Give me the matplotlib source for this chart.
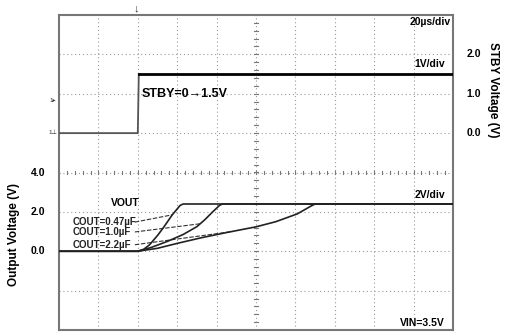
import matplotlib
matplotlib.use('Agg')

import matplotlib.pyplot as plt
import numpy as np

plt.rcParams['font.family'] = ['Liberation Sans', 'DejaVu Sans']

# time axis: 20 us/div, 10 divisions
t_span = (0, 200)

# STBY step (1 V/div, 0 V on division +1)
stby_t = [0, 40, 40.5, 200]
stby_v = [0.0, 0.0, 1.5, 1.5]

# VOUT curves (2 V/div, 0 V on division -2)
c047_t = [0, 40, 43, 46, 50, 53, 57.5, 61.5, 63, 200]
c047_v = [0.0, 0.0, 0.1, 0.33, 0.8, 1.2, 1.85, 2.33, 2.4, 2.4]
c10_t = [0, 40, 47, 55, 63, 70, 74, 78, 81.5, 83, 200]
c10_v = [0.0, 0.0, 0.2, 0.5, 0.85, 1.25, 1.6, 2.0, 2.33, 2.4, 2.4]
c22_t = [0, 40, 50, 60, 72, 85, 100, 110, 121, 128, 130, 200]
c22_v = [0.0, 0.0, 0.15, 0.4, 0.68, 0.95, 1.24, 1.5, 1.9, 2.3, 2.4, 2.4]

labels = ['COUT=0.47µF', 'COUT=1.0µF', 'COUT=2.2µF']
left_ticks = ['4.0', '2.0', '0.0']
right_ticks = ['2.0', '1.0', '0.0']

def stby_div(v):
    return 1 + np.asarray(v) / 1.0

def vout_div(v):
    return -2 + np.asarray(v) / 2.0

fig = plt.figure(figsize=(5.1, 3.36), dpi=100)
ax = fig.add_axes([59 / 510, 6 / 336, 394 / 510, 315 / 336])
ax.set_xlim(*t_span)
ax.set_ylim(-4, 4)
ax.set_xticks([])
ax.set_yticks([])
for s in ax.spines.values():
    s.set_color('#777777')
    s.set_linewidth(1.5)

# dotted graticule
for k in range(1, 10):
    ax.axvline(k * 20, color='#999999', lw=0.8, ls=(0, (1, 2.5)), zorder=1)
for k in range(-3, 4):
    ax.axhline(k, color='#999999', lw=0.8, ls=(0, (1, 2.5)), zorder=1)

# center cross with minor ticks
for k in np.arange(-4, 4.01, 0.2):
    ax.plot([99, 101], [k, k], color='#777777', lw=0.8, zorder=1)
for k in np.arange(0, 200.1, 4):
    ax.plot([k, k], [-0.05, 0.05], color='#777777', lw=0.8, zorder=1)

# STBY trace
ax.plot(stby_t[:3], stby_div(stby_v[:3]), color='#555555', lw=1.3, zorder=3)
ax.plot(stby_t[2:], stby_div(stby_v[2:]), color='black', lw=2.0, zorder=3)

# VOUT traces
for tt, vv in [(c047_t, c047_v), (c10_t, c10_v), (c22_t, c22_v)]:
    ax.plot(tt, vout_div(vv), color='#222222', lw=1.2, zorder=3)

# leader lines from labels to curves
lab_t = [7, 7, 7]
lab_v = [1.48, 0.98, 0.33]
end_t = [57.5, 72, 88]
end_v = [1.85, 1.4, 1.0]
for i in range(3):
    ax.text(lab_t[i], vout_div(lab_v[i]), labels[i], fontsize=7, fontweight='bold',
            family=['Liberation Sans Narrow', 'Liberation Sans'], va='center', ha='left',
            color='#222222', zorder=4)
    ax.plot([38.5, end_t[i]], vout_div([lab_v[i], end_v[i]]), color='#333333', lw=0.8,
            ls=(0, (4, 1.5)), zorder=2)

ax.text(33.5, vout_div(2.45), 'VOUT', fontsize=7.5, fontweight='bold', ha='center', va='center')
ax.text(42, stby_div(1.0), 'STBY=0→1.5V', fontsize=9, fontweight='bold', ha='left', va='center')
ax.text(199, 3.82, '20µs/div', fontsize=7.5, fontweight='bold', ha='right', va='center')
ax.text(196, stby_div(1.75), '1V/div', fontsize=7.5, fontweight='bold', ha='right', va='center')
ax.text(196, vout_div(2.85), '2V/div', fontsize=7.5, fontweight='bold', ha='right', va='center')
ax.text(196, -3.82, 'VIN=3.5V', fontsize=7.5, fontweight='bold', ha='right', va='center')

# scale labels outside the frame
for i, lab in enumerate(left_ticks):
    ax.text(-7, vout_div(4.0 - 2.0 * i), lab, fontsize=7.5, fontweight='bold',
            ha='right', va='center', clip_on=False)
for i, lab in enumerate(right_ticks):
    ax.text(207, stby_div(2.0 - 1.0 * i), lab, fontsize=7.5, fontweight='bold',
            ha='left', va='center', clip_on=False)

fig.text(14 / 510, 1 - 235 / 336, 'Output Voltage (V)', rotation=90, fontsize=8.5,
         fontweight='bold', ha='center', va='center')
fig.text(493 / 510, 1 - 90 / 336, 'STBY Voltage (V)', rotation=-90, fontsize=8.5,
         fontweight='bold', ha='center', va='center')

# scope markers
fig.text(136 / 510, 1 - 8 / 336, '↓', fontsize=8, ha='center', va='center', color='#333333')
fig.text(53 / 510, 1 - 100 / 336, '1▸', fontsize=4.5, ha='center', va='center', color='#333333')
fig.text(53 / 510, 1 - 133 / 336, '1⊥', fontsize=4.5, ha='center', va='center', color='#333333')

fig.savefig('out.png', dpi=100)
